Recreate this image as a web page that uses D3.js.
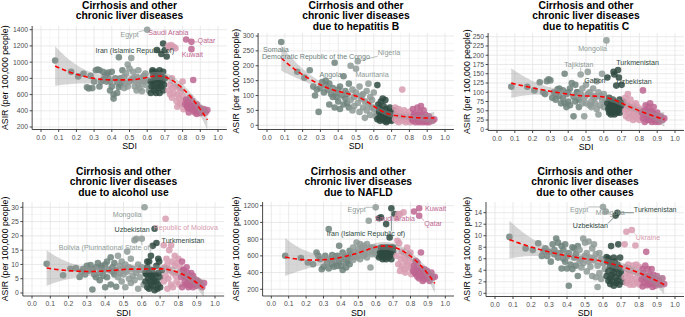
<!DOCTYPE html>
<html><head><meta charset="utf-8">
<script src="https://cdn.jsdelivr.net/npm/d3@7"></script>
<style>
body{margin:0;background:#fff}
svg{display:block}
text{font-family:"Liberation Sans",Arial,Helvetica,sans-serif}
</style>
</head><body>
<svg id="c" width="685" height="317"></svg>
<script>
// ---------------- DATA ----------------
// Socio-demographic index of each country (shared by all six panels)
const sdi = [
 0.08,0.17,0.21,0.24,0.26,0.27,0.28,0.29,0.30,0.31,
 0.32,0.33,0.33,0.34,0.35,0.35,0.36,0.37,0.37,0.38,
 0.38,0.39,0.39,0.40,0.40,0.41,0.41,0.42,0.43,0.43,
 0.44,0.44,0.45,0.45,0.46,0.46,0.47,0.47,0.48,0.48,
 0.49,0.49,0.50,0.50,0.51,0.51,0.52,0.52,0.53,0.53,
 0.54,0.54,0.55,0.55,0.56,0.56,0.57,0.57,0.58,0.58,
 0.59,0.59,0.60,0.60,0.61,0.615,0.62,0.62,0.625,0.63,
 0.63,0.63,0.635,0.64,0.64,0.64,0.645,0.65,0.65,0.65,
 0.655,0.66,0.66,0.66,0.665,0.67,0.67,0.67,0.675,0.68,
 0.68,0.68,0.685,0.69,0.69,0.69,0.695,0.70,0.70,0.71,
 0.72,0.72,0.725,0.73,0.73,0.735,0.74,0.74,0.745,0.75,
 0.75,0.76,0.76,0.765,0.77,0.77,0.78,0.78,0.785,0.79,
 0.79,0.80,0.80,0.805,0.81,0.815,0.82,0.82,0.825,0.83,
 0.83,0.835,0.84,0.84,0.845,0.85,0.85,0.85,0.855,0.86,
 0.86,0.865,0.87,0.87,0.875,0.88,0.88,0.885,0.89,0.89,
 0.895,0.90,0.90,0.91,0.91,0.92,0.93,0.94
];
// ASIR (per 100,000) — all cirrhosis and other chronic liver diseases
const asirAll = [
 1020,880,824,857,690,675,830,680,760,900,
 910,900,700,760,880,780,820,760,850,870,
 800,650,760,700,880,600,550,800,750,620,
 1060,690,800,720,760,900,680,820,740,860,
 970,700,920,760,780,1050,800,880,700,770,
 650,820,720,900,680,760,800,640,760,830,
 720,860,1400,780,650,680,760,620,700,880,
 900,760,840,780,650,700,880,760,820,620,
 1150,800,700,860,680,750,620,900,780,1100,
 820,700,760,1230,880,650,720,1150,800,1070,
 1200,650,1180,720,600,1210,800,560,680,1190,
 620,1170,700,520,600,450,680,560,480,640,
 500,760,580,420,520,480,1280,540,460,430,
 500,380,560,440,470,1250,1160,420,520,460,
 780,400,380,450,420,480,360,400,440,390,
 410,370,430,380,400,420,380,410
];
// due to hepatitis B
const asirHepB = [
 280,180,160,185,130,100,120,45,125,145,
 110,135,150,120,70,140,105,95,125,210,
 60,110,95,120,80,130,55,100,165,70,
 90,115,75,105,140,60,200,85,120,50,
 95,65,190,110,215,75,130,45,90,100,
 60,105,80,25,115,50,70,140,35,95,
 60,85,55,110,30,40,135,20,70,45,
 25,60,15,80,35,50,20,90,30,45,
 65,15,40,25,85,30,55,10,35,20,
 45,15,25,40,30,60,20,35,15,50,
 60,20,35,15,45,25,10,55,30,20,
 40,120,15,30,50,20,25,10,35,20,
 15,45,25,10,30,20,55,15,35,25,
 40,10,30,20,60,15,25,35,10,45,
 20,65,15,30,10,50,25,15,35,20,
 10,25,15,30,10,20,15,20
];
// due to hepatitis C
const asirHepC = [
 115,115,105,127,100,95,130,135,132,85,
 100,80,95,108,110,90,70,105,85,150,
 70,95,60,75,100,110,65,125,35,88,
 120,75,100,100,60,80,148,95,70,110,
 35,85,120,70,95,155,65,100,75,60,
 90,110,70,85,55,130,100,40,90,65,
 80,150,95,60,75,240,140,70,55,45,
 85,60,50,75,40,65,55,80,45,70,
 155,148,60,40,75,118,55,65,45,160,
 50,70,140,60,45,80,55,120,65,75,
 50,85,35,70,55,95,30,65,45,60,
 80,40,55,25,65,35,50,70,30,45,
 60,40,25,55,35,45,105,30,50,40,
 20,65,35,50,25,45,60,30,40,70,
 25,50,35,20,45,30,60,25,40,20,
 35,25,45,30,20,35,25,30
];
// due to alcohol use
const asirAlcohol = [
 10.2,6.2,8.5,8.7,5.6,7.5,8.5,6.5,9.5,7.8,
 9.8,1.2,8.2,6.5,9,5.5,10.5,7,4.5,8.8,
 9.5,6,7.8,10,2,11,5.5,8.2,12.5,3,
 7.5,9,6.5,10.5,2.2,8,13,5.5,9.5,7,
 11,4,8.5,6.5,10,2,7.5,14.5,5,9,
 3.5,12,6,8.5,18.5,4.5,19,7,1.5,10,
 5.5,8,9,19,3,30,7,4,6.5,11,
 2,9,5,11,1.5,7,4,13,6,3,
 8,16.5,2.5,6,5,22.5,1,4,6.5,17.5,
 4,9.5,1.5,7,12,3,11,5.5,2,8,
 16.7,4,9,26,6,12,1.5,10,5,15,
 8,16.7,3,11,7,2,9.5,13,6,4,
 10.5,7,12,3,9,5.5,11,2,8,6,
 8,4,6,3,9,3,5,7,2,6,
 5,2.5,7,3,4,6,2,5,3.5,4,
 3,4.5,2.5,4,3,3.5,2,3.5
];
// due to NAFLD
const asirNafld = [
 600,575,520,500,640,600,560,440,470,600,
 520,920,450,560,610,500,470,590,540,480,
 600,520,720,480,560,640,430,580,520,460,
 600,540,660,500,620,580,700,550,640,600,
 760,580,680,620,740,560,700,650,720,600,
 680,620,740,580,650,1020,460,700,620,680,
 640,700,1180,660,600,620,1050,580,640,700,
 1060,600,650,680,560,620,700,640,580,660,
 620,700,560,980,640,660,600,700,580,820,
 640,600,700,1170,620,560,680,650,700,1100,
 1050,600,780,1100,500,750,420,1100,560,650,
 480,1120,600,440,550,400,700,520,480,580,
 620,450,640,380,520,420,1130,480,400,540,
 380,460,520,350,420,1080,1170,330,400,450,
 640,360,420,300,380,440,320,400,350,380,
 420,330,380,300,360,400,340,350
];
// due to other causes
const asirOther = [
 9.8,7.8,7.5,8.7,6.5,7.3,7.8,6.5,7.2,5.5,
 8.5,7.5,6.8,9.5,8.8,6.2,7,4.3,8.2,6,
 7.5,5.5,8.5,6.5,4.3,1.3,7,5,4.2,8,
 6.2,7.8,4.8,6.8,3,8.2,5.6,7.5,6,4.5,
 9.5,5.2,6.5,8.8,3.8,7,5.5,9,4.6,6.2,
 7.8,3,5.8,8.5,2.8,6.8,1.1,4.8,7,3.5,
 6,2.5,15,5.2,4.2,14.2,6.3,3,5.5,2.2,
 6.1,3.8,5.5,2.6,4.8,1.6,8.2,3.2,5.2,2.1,
 4.5,6.2,1.3,3.6,5.5,13.5,2.8,4.2,1.8,14,
 5,2.2,8.5,3.4,4.5,1.5,6.2,2.8,3.8,2,
 8.5,2.8,4.5,10.7,1.8,3.5,5,2.2,4,1.5,
 3.2,11,2.5,4.8,1.5,3.8,8.3,2.5,5,1.8,
 3.5,2.2,4.6,1.5,3.2,2.4,4.2,1.2,3.5,2.8,
 1.8,4.8,2.5,7.2,1.4,3,2.2,4.2,1.6,2.8,
 3.2,1.6,2.6,4.2,1.1,2.4,3.2,1.8,2.2,1.3,
 2.4,1.8,3,1.6,2.2,1.5,2.6,1.6
];
// labelled countries (index into the arrays above)
const countryIndex = {
 "Somalia":0,"Democratic Republic of the Congo":19,"Angola":28,"Tajikistan":36,
 "Mauritania":42,"Nigeria":44,"Egypt":62,"Bolivia (Plurinational State of)":63,
 "Mongolia":65,"Gabon":81,"Uzbekistan":85,"Turkmenistan":89,
 "Iran (Islamic Republic of)":93,"Republic of Moldova":103,"Ukraine":111,
 "Saudi Arabia":126,"Qatar":135,"Kuwait":136
};
const xTicks = [0,0.1,0.2,0.3,0.4,0.5,0.6,0.7,0.8,0.9,1.0];
const yTicksAll = [200,400,600,800,1000,1200,1400];
const yTicksHepB = [0,50,100,150,200,250,300];
const yTicksHepC = [0,25,50,75,100,125,150,175,200,225,250];
const yTicksAlcohol = [0,5,10,15,20,25,30];
const yTicksNafld = [200,400,600,800,1000,1200];
const yTicksOther = [0,2,4,6,8,10,12,14];

// SDI quintile thresholds (GBD) and colours
const quintileCuts = [0.4658,0.6188,0.7120,0.8103];
const quintileColors = ["#6e827d","#8e9a96","#2f4a41","#d89cb0","#bd6590"];
const groupOf = s => quintileCuts.filter(c => s >= c).length;

// ---------------- LAYOUT ----------------
const panels = [
 {title:["Cirrhosis and other","chronic liver diseases"], values:asirAll, yTicks:yTicksAll,
  x0:41, x1:218, yRef:[200,1400], yPix:[127,29.7], top:26, bottom:129.5, titleY:9, yTitleX:8,
  labels:[["Egypt",0.50,1343],["Saudi Arabia",0.72,1363],["Qatar",0.935,1262],["Kuwait",0.855,1088],["Iran (Islamic Republic of)",0.53,1141]]},
 {title:["Cirrhosis and other","chronic liver diseases","due to hepatitis B"], values:asirHepB, yTicks:yTicksHepB,
  x0:267, x1:445, yRef:[0,300], yPix:[125.3,36], top:33, bottom:129.5, titleY:9, yTitleX:238.5,
  labels:[["Somalia",0.05,256],["Democratic Republic of the Congo",0.275,231],["Nigeria",0.685,244],["Angola",0.357,172],["Mauritania",0.59,172]]},
 {title:["Cirrhosis and other","chronic liver diseases","due to hepatitis C"], values:asirHepC, yTicks:yTicksHepC,
  x0:497, x1:675, yRef:[0,250], yPix:[129.3,36.7], top:33, bottom:130.5, titleY:9, yTitleX:469.5,
  labels:[["Mongolia",0.537,217],["Tajikistan",0.46,176],["Turkmenistan",0.79,180],["Gabon",0.55,131],["Uzbekistan",0.77,130]]},
 {title:["Cirrhosis and other","chronic liver diseases","due to alcohol use"], values:asirAlcohol, yTicks:yTicksAlcohol,
  x0:32, x1:215, yRef:[0,30], yPix:[293,207.3], top:202, bottom:296, titleY:175, yTitleX:7.5,
  labels:[["Mongolia",0.52,27.4],["Uzbekistan",0.547,22.2],["Republic of Moldova",0.84,23.1],["Turkmenistan",0.825,18.3],["Bolivia (Plurinational State of)",0.40,16.0]]},
 {title:["Cirrhosis and other","chronic liver diseases","due to NAFLD"], values:asirNafld, yTicks:yTicksNafld,
  x0:271.3, x1:445.3, yRef:[200,1200], yPix:[289.3,205.7], top:202, bottom:296, titleY:175, yTitleX:238.5,
  labels:[["Egypt",0.49,1160],["Kuwait",0.944,1169],["Qatar",0.93,990],["Saudi Arabia",0.71,1050],["Iran (Islamic Republic of)",0.544,870]]},
 {title:["Cirrhosis and other","chronic liver diseases","due to other causes"], values:asirOther, yTicks:yTicksOther,
  x0:495, x1:675, yRef:[0,14], yPix:[293.3,212.7], top:202, bottom:296.5, titleY:175, yTitleX:469.5,
  labels:[["Egypt",0.467,14.6],["Mongolia",0.64,14.0],["Turkmenistan",0.89,14.6],["Uzbekistan",0.53,11.7],["Ukraine",0.85,9.7]]}
];

// ---------------- LOESS (degree 2, span 0.75, tricube) ----------------
function inv3row0(m){
  const [a,b,c]=m[0],[d,e,f]=m[1],[g,h,i]=m[2];
  const A=e*i-f*h,B=-(d*i-f*g),C=d*h-e*g;
  const det=a*A+b*B+c*C;
  return [A/det,-(b*i-c*h)/det,(b*f-c*e)/det];
}
function loessWeights(xs,x0,span){
  const n=xs.length,q=Math.floor(span*n);
  const d=xs.map(x=>Math.abs(x-x0));
  const h=Math.max(d.slice().sort((a,b)=>a-b)[q-1],1e-9);
  const w=d.map(v=>v<h?Math.pow(1-Math.pow(v/h,3),3):0);
  const s=[0,0,0,0,0];
  xs.forEach((x,i)=>{const u=x-x0;let p=w[i];for(let k=0;k<5;k++){s[k]+=p;p*=u;}});
  const r=inv3row0([[s[0],s[1],s[2]],[s[1],s[2],s[3]],[s[2],s[3],s[4]]]);
  return xs.map((x,i)=>{const u=x-x0;return w[i]*(r[0]+r[1]*u+r[2]*u*u);});
}
function loess(xs,ys,span){
  const n=xs.length;
  let rss=0,tr=0;
  xs.forEach((x,i)=>{const l=loessWeights(xs,x,span);const f=d3.sum(l,(v,j)=>v*ys[j]);rss+=(ys[i]-f)**2;tr+=l[i];});
  const sigma=Math.sqrt(rss/(n-tr));
  const [mn,mx]=d3.extent(xs);
  return d3.range(80).map(k=>{
    const x0=mn+(mx-mn)*k/79;
    const l=loessWeights(xs,x0,span);
    const f=d3.sum(l,(v,j)=>v*ys[j]);
    const se=sigma*Math.sqrt(d3.sum(l,v=>v*v));
    return {x:x0,y:f,lo:f-1.97*se,hi:f+1.97*se};
  });
}

// ---------------- DRAW ----------------
const svg=d3.select("#c");
const defs=svg.append("defs");
panels.forEach((p,pi)=>{
  const x=d3.scaleLinear().domain([0,1]).range([p.x0,p.x1]);
  const y=d3.scaleLinear().domain(p.yRef).range(p.yPix);
  const L=x(-0.05),R=x(1.05),T=p.top,B=p.bottom;
  const yLo=y.invert(B),yHi=y.invert(T);
  const g=svg.append("g");
  defs.append("clipPath").attr("id","clip"+pi).append("rect").attr("x",L).attr("y",T).attr("width",R-L).attr("height",B-T);

  // grid
  const step=p.yTicks[1]-p.yTicks[0];
  const yMinor=[p.yTicks[0]-step/2].concat(p.yTicks.map(t=>t+step/2)).filter(v=>v>yLo&&v<yHi);
  const xMinor=d3.range(0,11).map(i=>0.05+0.1*i).filter(v=>v<1.04);
  const yMaj=p.yTicks.filter(v=>v>=yLo&&v<=yHi);
  g.selectAll(".xm").data(xMinor).join("line").attr("x1",d=>x(d)).attr("x2",d=>x(d)).attr("y1",T).attr("y2",B).attr("stroke","#f1f1f1").attr("stroke-width",0.6);
  g.selectAll(".ym").data(yMinor).join("line").attr("y1",d=>y(d)).attr("y2",d=>y(d)).attr("x1",L).attr("x2",R).attr("stroke","#f1f1f1").attr("stroke-width",0.6);
  g.selectAll(".xg").data(xTicks).join("line").attr("x1",d=>x(d)).attr("x2",d=>x(d)).attr("y1",T).attr("y2",B).attr("stroke","#e3e3e3").attr("stroke-width",0.8);
  g.selectAll(".yg").data(yMaj).join("line").attr("y1",d=>y(d)).attr("y2",d=>y(d)).attr("x1",L).attr("x2",R).attr("stroke","#e3e3e3").attr("stroke-width",0.8);

  // points
  g.selectAll("circle").data(sdi.map((s,i)=>({s,v:p.values[i]}))).join("circle")
    .attr("cx",d=>x(d.s)).attr("cy",d=>y(d.v)).attr("r",3.3)
    .attr("fill",d=>quintileColors[groupOf(d.s)]).attr("fill-opacity",0.85);

  // smooth
  const fit=loess(sdi,p.values,0.75);
  const cg=g.append("g").attr("clip-path",`url(#clip${pi})`);
  cg.append("path").datum(fit).attr("d",d3.area().x(d=>x(d.x)).y0(d=>y(d.lo)).y1(d=>y(d.hi)))
    .attr("fill","#999999").attr("fill-opacity",0.4);
  cg.append("path").datum(fit).attr("d",d3.line().x(d=>x(d.x)).y(d=>y(d.y)))
    .attr("fill","none").attr("stroke","#ff0000").attr("stroke-width",1.6).attr("stroke-dasharray","4.5,3");

  // axes
  const ax=g.append("g").attr("stroke","#333").attr("stroke-width",0.9);
  ax.append("line").attr("x1",L).attr("x2",R).attr("y1",B).attr("y2",B);
  ax.append("line").attr("x1",L).attr("x2",L).attr("y1",T).attr("y2",B);
  ax.selectAll(".xt").data(xTicks).join("line").attr("x1",d=>x(d)).attr("x2",d=>x(d)).attr("y1",B).attr("y2",B+2.5);
  ax.selectAll(".yt").data(yMaj).join("line").attr("y1",d=>y(d)).attr("y2",d=>y(d)).attr("x1",L-2.5).attr("x2",L);
  g.selectAll(".xl").data(xTicks).join("text").attr("x",d=>x(d)).attr("y",B+10)
    .attr("text-anchor","middle").attr("font-size",6.8).attr("fill","#4d4d4d").text(d=>d3.format(".1f")(d));
  g.selectAll(".yl").data(yMaj).join("text").attr("x",L-4).attr("y",d=>y(d)+2.4)
    .attr("text-anchor","end").attr("font-size",6.8).attr("fill","#4d4d4d").text(d=>d);

  // titles
  g.append("text").attr("x",(L+R)/2).attr("y",B+19.5).attr("text-anchor","middle").attr("font-size",8.8).attr("fill","#000").text("SDI");
  g.append("text").attr("transform",`translate(${p.yTitleX},${(T+B)/2}) rotate(-90)`).attr("text-anchor","middle")
    .attr("font-size",8.8).attr("fill","#000").text("ASIR (per 100,000 people)");
  p.title.forEach((t,i)=>g.append("text").attr("x",(L+R)/2).attr("y",p.titleY+i*10.4).attr("text-anchor","middle")
    .attr("font-size",10.3).attr("font-weight","bold").attr("fill","#000").text(t));

  // labels with leader segments
  p.labels.forEach(([name,tx,ty])=>{
    const idx=countryIndex[name];
    const col=quintileColors[groupOf(sdi[idx])];
    const px=x(sdi[idx]),py=y(p.values[idx]);
    const t=g.append("text").attr("x",x(tx)).attr("y",y(ty)+2.5).attr("text-anchor","middle")
      .attr("font-size",7.1).attr("fill",col).text(name);
    const bb=t.node().getBBox();
    const cx=Math.max(bb.x,Math.min(px,bb.x+bb.width)),cy=Math.max(bb.y+1,Math.min(py,bb.y+bb.height-1));
    const dist=Math.hypot(cx-px,cy-py);
    if(dist>6){
      const k=3/dist;
      g.insert("line","text").attr("x1",px+(cx-px)*k).attr("y1",py+(cy-py)*k).attr("x2",cx).attr("y2",cy)
        .attr("stroke",col).attr("stroke-width",0.6);
    }
  });
});
</script>
</body></html>
